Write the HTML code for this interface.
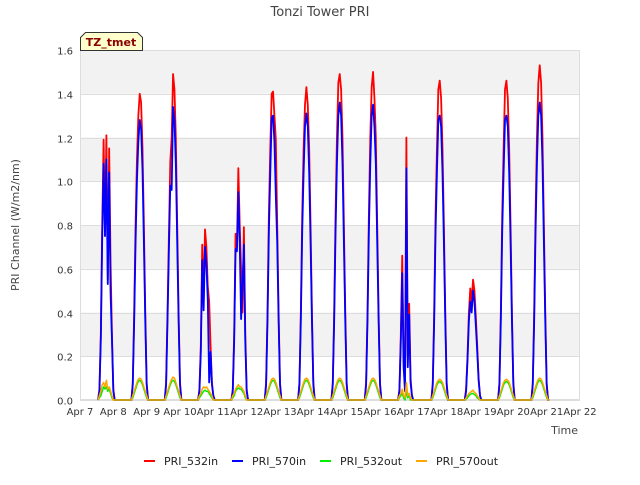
<!DOCTYPE html>
<html><head><meta charset="utf-8"><style>
body{margin:0;background:#fff;}
svg text{font-family:"DejaVu Sans","Liberation Sans",sans-serif;}
</style></head><body>
<svg id="chart" width="640" height="480" xmlns="http://www.w3.org/2000/svg">
<text x="320" y="16" text-anchor="middle" font-size="13" fill="#444">Tonzi Tower PRI</text>
<text transform="translate(19,225) rotate(-90)" text-anchor="middle" font-size="11" fill="#444">PRI Channel (W/m2/nm)</text>
<text x="578" y="434" text-anchor="end" font-size="11" fill="#444">Time</text>
<g id="bands"></g><g id="grid"></g><g id="yticks"></g><g id="xticks"></g><g id="series"></g>
<g>
<path d="M80.5,50.5 L80.5,37.5 L85.5,32.5 L137.5,32.5 L142.5,37.5 L142.5,50.5 Z" fill="#ffffcc" stroke="#333" stroke-width="1"/>
<text x="111" y="46" text-anchor="middle" font-size="11" font-weight="bold" fill="#8b0000">TZ_tmet</text>
</g>
<g>
<g><rect x="144" y="460" width="11" height="2" fill="#ff0000"/><text x="164" y="465" font-size="11" fill="#222">PRI_532in</text></g>
<g><rect x="232" y="460" width="11" height="2" fill="#0000ff"/><text x="252" y="465" font-size="11" fill="#222">PRI_570in</text></g>
<g><rect x="320" y="460" width="11" height="2" fill="#00ee00"/><text x="340" y="465" font-size="11" fill="#222">PRI_532out</text></g>
<g><rect x="416" y="460" width="11" height="2" fill="#ffa500"/><text x="436" y="465" font-size="11" fill="#222">PRI_570out</text></g>
</g>
</svg>
<script>
const xTickLabels=["Apr 7","Apr 8","Apr 9","Apr 10","Apr 11","Apr 12","Apr 13","Apr 14","Apr 15","Apr 16","Apr 17","Apr 18","Apr 19","Apr 20","Apr 21","Apr 22"];
const yTickValues=[0,0.2,0.4,0.6,0.8,1.0,1.2,1.4,1.6];
const hours=[13,14,15,16,17,18,19,20,21,22,23,24,25,26];
const red532in=[
[0,0.05,0.3,0.8,1.19,0.75,1.21,0.55,1.15,0.63,0.3,0.05,0,0],
[0,0.08,0.4,0.8,1.1,1.3,1.40,1.36,1.15,0.8,0.4,0.08,0,0],
[0,0.08,0.4,0.75,1.09,1.2,1.49,1.42,1.2,0.8,0.4,0.08,0,0],
[0,0.05,0.25,0.71,0.45,0.78,0.7,0.52,0.45,0.25,0.08,0.02,0,0],
[0,0.05,0.3,0.76,0.7,1.06,0.8,0.6,0.4,0.79,0.3,0.05,0,0],
[0,0.08,0.4,0.85,1.15,1.4,1.41,1.3,1.19,0.8,0.4,0.08,0,0],
[0,0.08,0.4,0.85,1.15,1.35,1.43,1.35,1.15,0.8,0.4,0.08,0,0],
[0,0.08,0.4,0.85,1.2,1.45,1.49,1.42,1.2,0.8,0.4,0.08,0,0],
[0,0.08,0.4,0.85,1.2,1.43,1.50,1.38,1.2,0.8,0.4,0.08,0,0],
[0,0.05,0.3,0.66,0.2,0.05,1.20,0.2,0.44,0.1,0.02,0,0,0],
[0,0.08,0.4,0.85,1.15,1.42,1.46,1.38,1.15,0.8,0.4,0.08,0,0],
[0,0.05,0.2,0.4,0.51,0.45,0.55,0.5,0.38,0.25,0.1,0.02,0,0],
[0,0.08,0.4,0.85,1.15,1.42,1.46,1.38,1.15,0.8,0.4,0.08,0,0],
[0,0.08,0.4,0.85,1.2,1.45,1.53,1.45,1.2,0.8,0.4,0.08,0,0]];
const blue570in=[
[0,0.04,0.28,0.75,1.08,0.75,1.1,0.53,1.04,0.49,0.28,0.04,0,0],
[0,0.07,0.36,0.72,1.0,1.18,1.28,1.24,1.05,0.72,0.36,0.07,0,0],
[0,0.07,0.36,0.68,0.98,0.96,1.34,1.28,1.08,0.72,0.36,0.07,0,0],
[0,0.04,0.22,0.64,0.41,0.70,0.62,0.46,0.08,0.22,0.07,0.02,0,0],
[0,0.04,0.27,0.69,0.68,0.95,0.72,0.37,0.53,0.71,0.27,0.04,0,0],
[0,0.07,0.36,0.77,1.04,1.29,1.30,1.18,0.93,0.72,0.36,0.07,0,0],
[0,0.07,0.36,0.77,1.04,1.25,1.31,1.25,1.04,0.72,0.36,0.07,0,0],
[0,0.07,0.36,0.77,1.08,1.30,1.36,1.30,1.08,0.72,0.36,0.07,0,0],
[0,0.07,0.36,0.77,1.08,1.30,1.35,1.25,1.08,0.72,0.36,0.07,0,0],
[0,0.04,0.27,0.58,0.15,0.04,1.06,0.15,0.39,0.08,0.02,0,0,0],
[0,0.07,0.36,0.77,1.04,1.28,1.30,1.25,1.04,0.72,0.36,0.07,0,0],
[0,0.04,0.18,0.36,0.45,0.40,0.50,0.45,0.34,0.22,0.09,0.02,0,0],
[0,0.07,0.36,0.77,1.04,1.28,1.30,1.25,1.04,0.72,0.36,0.07,0,0],
[0,0.07,0.36,0.77,1.08,1.30,1.36,1.30,1.08,0.72,0.36,0.07,0,0]];
const green532out=[
[0,0.01,0.02,0.04,0.06,0.05,0.06,0.04,0.05,0.03,0.01,0,0,0],
[0,0.01,0.03,0.05,0.07,0.085,0.09,0.085,0.07,0.05,0.03,0.01,0,0],
[0,0.01,0.03,0.05,0.07,0.085,0.09,0.085,0.07,0.05,0.03,0.01,0,0],
[0,0.01,0.02,0.03,0.04,0.045,0.04,0.04,0.03,0.02,0.01,0,0,0],
[0,0.01,0.02,0.04,0.05,0.055,0.05,0.05,0.04,0.03,0.01,0,0,0],
[0,0.01,0.03,0.05,0.07,0.085,0.09,0.085,0.07,0.05,0.03,0.01,0,0],
[0,0.01,0.03,0.05,0.07,0.085,0.09,0.085,0.07,0.05,0.03,0.01,0,0],
[0,0.01,0.03,0.05,0.07,0.085,0.09,0.085,0.07,0.05,0.03,0.01,0,0],
[0,0.01,0.03,0.05,0.07,0.085,0.09,0.085,0.07,0.05,0.03,0.01,0,0],
[0,0.01,0.02,0.03,0.01,0.0,0.04,0.01,0.02,0,0,0,0,0],
[0,0.01,0.03,0.05,0.07,0.08,0.085,0.08,0.07,0.05,0.03,0.01,0,0],
[0,0.005,0.01,0.02,0.025,0.03,0.03,0.025,0.02,0.01,0.005,0,0,0],
[0,0.01,0.03,0.05,0.07,0.08,0.085,0.08,0.07,0.05,0.03,0.01,0,0],
[0,0.01,0.03,0.05,0.07,0.085,0.09,0.085,0.07,0.05,0.03,0.01,0,0]];
const orange570out=[
[0,0.02,0.04,0.07,0.08,0.06,0.09,0.05,0.06,0.04,0.02,0,0,0],
[0,0.02,0.04,0.06,0.08,0.095,0.1,0.095,0.08,0.06,0.04,0.02,0,0],
[0,0.02,0.04,0.06,0.08,0.095,0.105,0.1,0.08,0.06,0.04,0.02,0,0],
[0,0.02,0.03,0.05,0.06,0.055,0.06,0.05,0.04,0.03,0.02,0,0,0],
[0,0.02,0.03,0.05,0.06,0.07,0.06,0.06,0.05,0.04,0.02,0,0,0],
[0,0.02,0.04,0.06,0.08,0.095,0.1,0.095,0.08,0.06,0.04,0.02,0,0],
[0,0.02,0.04,0.06,0.08,0.095,0.1,0.095,0.08,0.06,0.04,0.02,0,0],
[0,0.02,0.04,0.06,0.08,0.095,0.1,0.095,0.08,0.06,0.04,0.02,0,0],
[0,0.02,0.04,0.06,0.08,0.095,0.1,0.095,0.08,0.06,0.04,0.02,0,0],
[0,0.02,0.03,0.05,0.02,0.01,0.08,0.02,0.03,0.01,0,0,0,0],
[0,0.02,0.04,0.06,0.08,0.09,0.095,0.09,0.08,0.06,0.04,0.02,0,0],
[0,0.01,0.02,0.03,0.035,0.04,0.045,0.035,0.03,0.02,0.01,0,0,0],
[0,0.02,0.04,0.06,0.08,0.09,0.095,0.09,0.08,0.06,0.04,0.02,0,0],
[0,0.02,0.04,0.06,0.08,0.095,0.1,0.095,0.08,0.06,0.04,0.02,0,0]];

const NS="http://www.w3.org/2000/svg";
const L=80,R=580,T=50,B=400,yMax=1.6,nDays=15;
function xScale(dayIdx,hour){return L+(dayIdx+hour/24)*(R-L)/nDays;}
function yScale(v){return B-v*(B-T)/yMax;}
function mk(tag,attrs,parent){const e=document.createElementNS(NS,tag);for(const k in attrs)e.setAttribute(k,attrs[k]);parent.appendChild(e);return e;}

const bands=document.getElementById('bands');
mk('rect',{x:L,y:T,width:R-L,height:B-T,fill:'#ffffff'},bands);
for(let i=0;i<yTickValues.length-1;i++){
  if(i%2===1){
    const r=mk('rect',{x:L,y:yScale(yTickValues[i+1]),width:R-L,height:yScale(yTickValues[i])-yScale(yTickValues[i+1]),fill:'#f2f2f2'},bands);
    
    
  }
}
const grid=document.getElementById('grid');
const yt=document.getElementById('yticks');
yTickValues.forEach(v=>{
  const y=Math.round(yScale(v))+0.5;
  const gl=mk('line',{x1:L,x2:R,y1:y,y2:y,stroke:'#dddddd','stroke-width':1},grid);
  
  
  const t=mk('text',{x:73,y:y+4,'text-anchor':'end','font-size':10,fill:'#333'},yt);
  t.textContent=v.toFixed(1);
  
  
});
mk('rect',{x:L+0.5,y:T+0.5,width:R-L-1,height:B-T-1,fill:'none',stroke:'#dddddd'},grid);
const xt=document.getElementById('xticks');
xTickLabels.forEach((lab,i)=>{
  const x=xScale(i,0);
  const t=mk('text',{x:x,y:415,'text-anchor':'middle','font-size':10,fill:'#333'},xt);
  t.textContent=lab;
  
  
});
const sg=document.getElementById('series');
function drawSeries(data,color,name,w){
  let pts=[];
  data.forEach((day,d)=>{day.forEach((v,h)=>{pts.push(xScale(d,hours[h]).toFixed(2)+','+yScale(v).toFixed(2));});});
  const p=mk('polyline',{points:pts.join(' '),fill:'none',stroke:color,'stroke-width':w,'stroke-linejoin':'round'},sg);
  
  
}
drawSeries(red532in,'#ff0000','series-pri-532in',1.8);
drawSeries(blue570in,'#0000ff','series-pri-570in',1.8);
drawSeries(green532out,'#00ee00','series-pri-532out',1.5);
drawSeries(orange570out,'#ffa500','series-pri-570out',1.5);
</script>
</body></html>
